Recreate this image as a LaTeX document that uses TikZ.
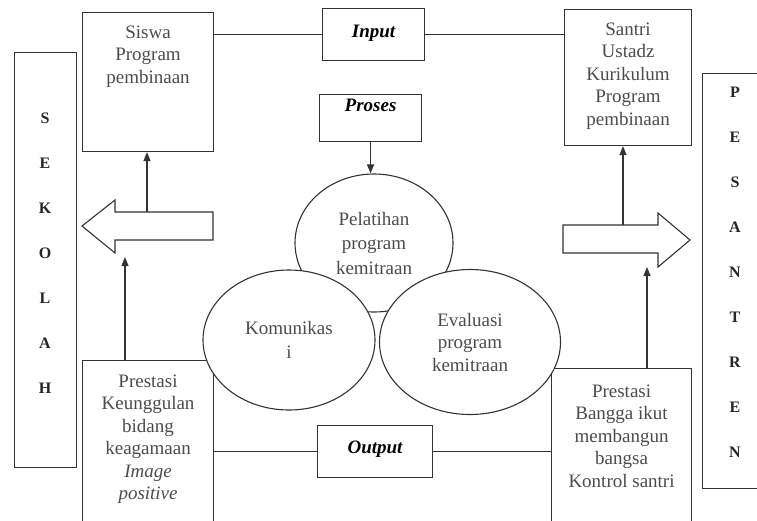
\documentclass[tikz,border=0pt]{standalone}
\usepackage{xcolor}
\usepackage{fontspec}
\setmainfont{Liberation Serif}
\usetikzlibrary{shapes.geometric,arrows.meta}

% text set at the top of a box: width, height, top gap, lines
\newcommand{\boxtext}[4]{\parbox[c][#2pt][t]{#1pt}{\centering\vspace*{#3pt}#4}}

\begin{document}
\begin{tikzpicture}[
	x=1pt,y=-1pt,
	line width=1.1pt,
	font=\fontsize{19}{22.5}\selectfont,
	box/.style={rectangle,draw=black!80,fill=white,inner sep=0pt,anchor=north west,text=black!70},
	head/.style={font=\fontsize{19}{22.5}\selectfont\bfseries\itshape,text=black},
	oval/.style={ellipse,draw=black!80,fill=white,inner sep=0pt,align=center,text=black!70},
	letter/.style={font=\fontsize{16}{18}\selectfont\bfseries,text=black!85},
	arr/.style={draw=black!80,-{Triangle[length=9pt,width=7pt]}}
]
	\useasboundingbox (0,0) rectangle (757,520);
	\clip (0,0) rectangle (757,520);

	% side columns
	\node[box,minimum width=62pt,minimum height=415pt] (sekolah) at (14,52) {};
	\node[box,minimum width=80pt,minimum height=415pt] (pesantren) at (702,73) {};
	\foreach \ch [count=\i] in {S,E,K,O,L,A,H}
		\node[letter] (sek\i) at (45,{73+45*\i}) {\ch};
	\foreach \ch [count=\i] in {P,E,S,A,N,T,R,E,N}
		\node[letter] (pes\i) at (735,{47+45*\i}) {\ch};

	% boxes
	\node[box] (siswa) at (82,12) {\boxtext{131}{139}{13}{Siswa\\Program\\pembinaan}};
	\node[box,head] (input) at (322,8) {\boxtext{102}{52}{17}{Input}};
	\node[box,head] (proses) at (319,94) {\boxtext{102}{47}{5}{Proses}};
	\node[box] (santri) at (564,9) {\boxtext{127}{136}{13}{Santri\\Ustadz\\Kurikulum\\Program\\pembinaan}};
	\node[box] (prestasiL) at (82,360) {\boxtext{131}{180}{14}{Prestasi\\Keunggulan\\bidang\\keagamaan\\\textit{Image}\\\textit{positive}}};
	\node[box,head] (output) at (317,425) {\boxtext{115}{52}{15}{Output}};
	\node[box] (prestasiR) at (551,368) {\boxtext{140}{180}{16}{Prestasi\\Bangga ikut\\membangun\\bangsa\\Kontrol santri}};

	% circles
	\node[oval,minimum width=158pt,minimum height=138pt] (pelatihan) at (374,243) {Pelatihan\\[2pt]program\\[2pt]kemitraan};
	\node[oval,minimum width=172pt,minimum height=140pt] (komunikasi) at (289,340) {Komunikas\\[2pt]i};
	\node[oval,minimum width=181pt,minimum height=145pt] (evaluasi) at (470,342) {Evaluasi\\program\\kemitraan};

	% hollow arrows
	\draw[draw=black!80] (213,212) -- (115,212) -- (115,200) -- (82,226) -- (115,253) -- (115,240) -- (213,240) -- cycle;
	\draw[draw=black!80] (563,225) -- (658,225) -- (658,213) -- (690,240) -- (658,267) -- (658,253) -- (563,253) -- cycle;
	\coordinate (ltop) at (147,212);
	\coordinate (lbot) at (125,257);
	\coordinate (rtop) at (623,225);
	\coordinate (rbot) at (647,267);

	% links
	\draw[draw=black!80] (siswa.east |- input.west) -- (input.west);
	\draw[draw=black!80] (input.east) -- (input.east -| santri.west);
	\draw[draw=black!80] (output.west) -- (output.west -| prestasiL.east);
	\draw[draw=black!80] (output.east) -- (output.east -| prestasiR.west);
	\draw[arr] (proses.south) -- (proses.south |- pelatihan.north);
	\draw[arr] (ltop) -- (ltop |- siswa.south);
	\draw[arr] (prestasiL.north -| lbot) -- (lbot);
	\draw[arr] (rtop) -- (rtop |- santri.south);
	\draw[arr] (prestasiR.north -| rbot) -- (rbot);
\end{tikzpicture}
\end{document}
